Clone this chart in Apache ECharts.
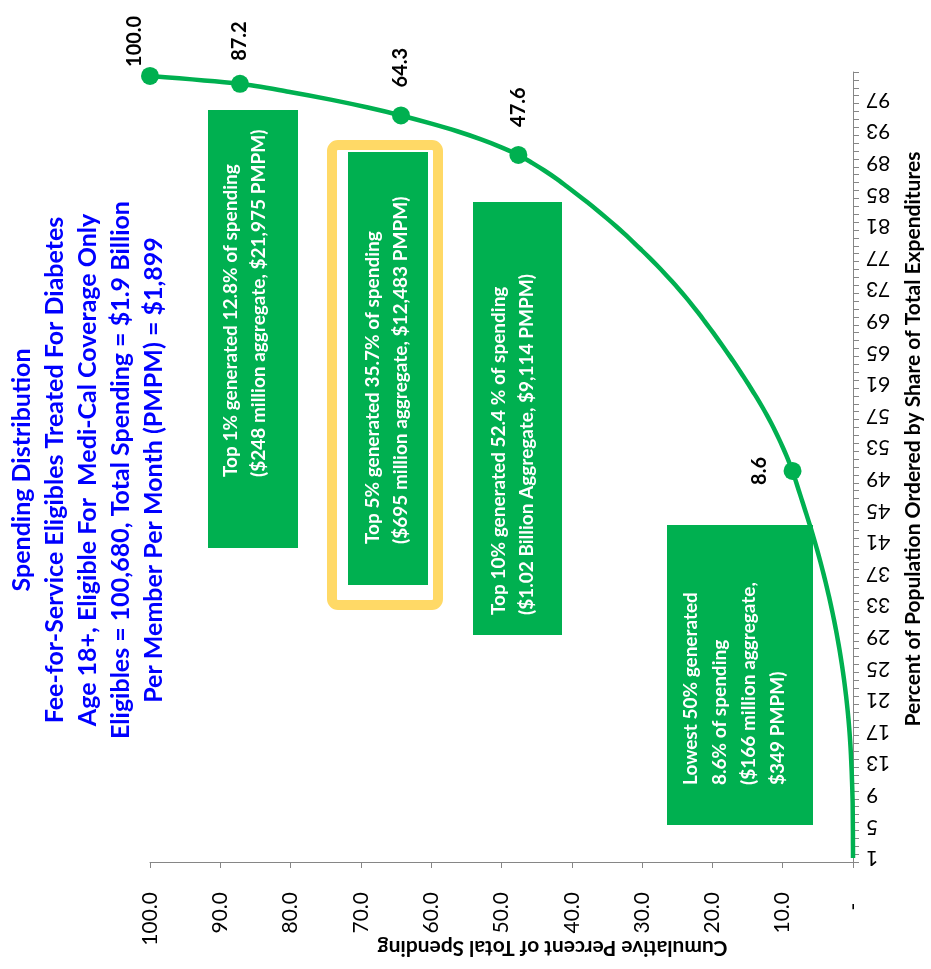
<!DOCTYPE html>
<html>
<head>
<meta charset="utf-8">
<script src="https://cdn.jsdelivr.net/npm/echarts@6/dist/echarts.min.js"></script>
<style>
  html, body { margin: 0; padding: 0; background: #ffffff; }
  #chart { width: 931px; height: 969px; }
</style>
</head>
<body>
<div id="chart"></div>
<script>
// Population percentile (1 = lowest spenders, 100 = highest)
const populationPct = Array.from({ length: 100 }, (_, i) => String(i + 1));

// Cumulative percent of total spending at each percentile
const cumulativeSpending = [
  0.00, 0.00, 0.01, 0.01, 0.02, 0.03, 0.04, 0.05, 0.08, 0.11,
  0.15, 0.19, 0.24, 0.29, 0.35, 0.42, 0.50, 0.59, 0.69, 0.80,
  0.92, 1.05, 1.19, 1.34, 1.50, 1.67, 1.85, 2.04, 2.24, 2.45,
  2.67, 2.90, 3.14, 3.39, 3.65, 3.92, 4.20, 4.49, 4.79, 5.10,
  5.42, 5.75, 6.09, 6.44, 6.80, 7.16, 7.52, 7.88, 8.24, 8.60,
  9.04, 9.50, 9.99, 10.50, 11.04, 11.61, 12.21, 12.84, 13.50, 14.20,
  14.90, 15.62, 16.36, 17.12, 17.90, 18.69, 19.49, 20.31, 21.15, 22.00,
  22.88, 23.80, 24.76, 25.76, 26.79, 27.86, 28.97, 30.12, 31.30, 32.50,
  33.75, 35.05, 36.39, 37.78, 39.22, 40.70, 42.20, 43.85, 45.65, 47.60,
  50.10, 53.00, 56.30, 60.10, 64.30, 69.00, 74.30, 80.30, 87.20, 100.00
];

// Percentiles that get a marker and a value label
const markedCategories = ['50', '90', '95', '99', '100'];

const titleLines = [
  'Spending Distribution',
  'Fee-for-Service Eligibles Treated For Diabetes',
  'Age 18+, Eligible For  Medi-Cal Coverage Only',
  'Eligibles = 100,680, Total Spending = $1.9 Billion',
  'Per Member Per Month (PMPM) = $1,899'
];

const noteTop1 = ['Top 1% generated 12.8% of spending', '($248 million aggregate, $21,975 PMPM)'];
const noteTop5 = ['Top 5% generated 35.7% of spending', '($695 million aggregate, $12,483 PMPM)'];
const noteTop10 = ['Top 10% generated 52.4 % of spending', '($1.02 Billion Aggregate, $9,114 PMPM)'];
const noteLow50 = ['Lowest 50% generated', '8.6% of spending', '($166 million aggregate,', '$349 PMPM)'];

const FONT = 'Lato, "Open Sans", "Liberation Sans", sans-serif';
const GREEN = '#00B050';
const UP = Math.PI / 2;

// label placement per marked point (offsets are in the rotated text frame)
const labelStyle = {
  '50':  { position: 'left', distance: 14, rotate: 90, align: 'center', verticalAlign: 'bottom' },
  '90':  { position: 'top', distance: 19, rotate: 90, align: 'left', verticalAlign: 'middle' },
  '95':  { position: 'top', distance: 19, rotate: 90, align: 'left', verticalAlign: 'middle' },
  '99':  { position: 'top', distance: 14, rotate: 90, align: 'left', verticalAlign: 'middle' },
  '100': { position: 'top', distance: 0, rotate: 90, align: 'left', verticalAlign: 'middle', offset: [0, -15] }
};

const seriesData = cumulativeSpending.map((v, i) => {
  const cat = populationPct[i];
  if (markedCategories.indexOf(cat) < 0) {
    return { value: v, symbol: 'none' };
  }
  return {
    value: v,
    symbol: 'circle',
    symbolSize: 18,
    label: Object.assign({
      show: true,
      color: '#000000',
      fontFamily: FONT,
      fontWeight: 'bold',
      fontSize: 20,
      formatter: p => p.value.toFixed(1)
    }, labelStyle[cat])
  };
});

function noteBox(x, y, w, h) {
  return { type: 'rect', shape: { x: x, y: y, width: w, height: h }, style: { fill: GREEN }, z: 1 };
}
function noteText(lines, x, y, lineHeight) {
  return {
    type: 'text', x: x, y: y, rotation: UP, z: 2,
    style: {
      text: lines.join('\n'), fill: '#ffffff', fontFamily: FONT, fontWeight: 'bold',
      fontSize: 19, lineHeight: lineHeight, align: 'left', verticalAlign: 'middle'
    }
  };
}

const chart = echarts.init(document.getElementById('chart'));
chart.setOption({
  backgroundColor: '#ffffff',
  animation: false,
  grid: { left: 150, right: 78, top: 72, bottom: 107, containLabel: false, outerBoundsMode: 'none' },
  xAxis: {
    type: 'value',
    inverse: true,
    min: 0, max: 100, interval: 10,
    position: 'bottom',
    splitLine: { show: false },
    axisLine: { show: true, lineStyle: { color: '#868686', width: 1 } },
    axisTick: { show: true, length: 6, lineStyle: { color: '#868686' } },
    axisLabel: {
      rotate: 90, margin: 30, fontSize: 21, color: '#000000', fontFamily: FONT,
      formatter: v => (v === 0 ? '-  ' : v.toFixed(1))
    },
    name: 'Cumulative Percent of Total Spending',
    nameLocation: 'middle', nameGap: 75, nameRotate: 180, nameMoveOverlap: false,
    nameTextStyle: { fontSize: 21, fontWeight: 'bold', color: '#000000', fontFamily: FONT, padding: [0, 102, 0, 0] }
  },
  yAxis: {
    type: 'category',
    data: populationPct,
    position: 'right',
    boundaryGap: true,
    splitLine: { show: false },
    axisLine: { show: true, lineStyle: { color: '#868686', width: 1 } },
    axisTick: { show: true, interval: 0, length: 6, lineStyle: { color: '#868686' } },
    axisLabel: { interval: 3, rotate: 180, margin: 13, fontSize: 21, color: '#000000', fontFamily: FONT },
    name: 'Percent of Population Ordered by Share of Total Expenditures',
    nameLocation: 'middle', nameGap: 50, nameRotate: 90,
    nameTextStyle: { fontSize: 21, fontWeight: 'bold', color: '#000000', fontFamily: FONT, padding: [0, 0, 0, 56] }
  },
  series: [{
    type: 'line',
    data: seriesData,
    smooth: 0.3,
    showSymbol: true,
    showAllSymbol: true,
    lineStyle: { color: GREEN, width: 4.5 },
    itemStyle: { color: GREEN },
    z: 3
  }],
  graphic: [
    {
      type: 'text', x: 88, y: 470, rotation: UP,
      style: {
        text: titleLines.join('\n'), fill: '#0000ff', fontFamily: FONT, fontWeight: 'bold',
        fontSize: 25, lineHeight: 33, align: 'center', verticalAlign: 'middle'
      }
    },
    noteBox(208, 110, 90, 438),
    noteText(noteTop1, 245, 477, 28),
    { type: 'rect', shape: { x: 332, y: 145, width: 106, height: 460, r: 6 },
      style: { fill: '#ffffff', stroke: '#FFD966', lineWidth: 10 }, z: 1 },
    noteBox(348, 152, 80, 433),
    noteText(noteTop5, 387, 544, 28),
    noteBox(473, 202, 89, 433),
    noteText(noteTop10, 513, 615, 28),
    noteBox(667, 525, 146, 300),
    noteText(noteLow50, 734, 785, 29)
  ]
});
</script>
</body>
</html>
